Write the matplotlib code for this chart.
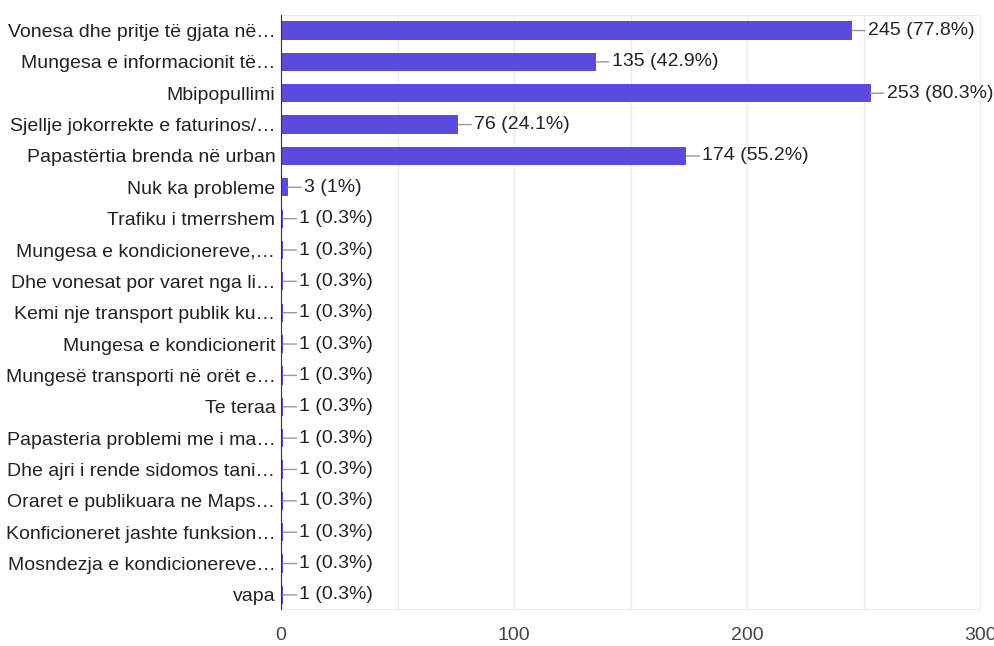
import matplotlib.pyplot as plt

# answers (already truncated the way the form chart shows them)
labels = [
    "Vonesa dhe pritje të gjata në…",
    "Mungesa e informacionit të…",
    "Mbipopullimi",
    "Sjellje jokorrekte e faturinos/…",
    "Papastërtia brenda në urban",
    "Nuk ka probleme",
    "Trafiku i tmerrshem",
    "Mungesa e kondicionereve,…",
    "Dhe vonesat por varet nga li…",
    "Kemi nje transport publik ku…",
    "Mungesa e kondicionerit",
    "Mungesë transporti në orët e…",
    "Te teraa",
    "Papasteria problemi me i ma…",
    "Dhe ajri i rende sidomos tani…",
    "Oraret e publikuara ne Maps…",
    "Konficioneret jashte funksion…",
    "Mosndezja e kondicionereve…",
    "vapa",
]
counts = [245, 135, 253, 76, 174, 3, 1, 1, 1, 1, 1, 1, 1, 1, 1, 1, 1, 1, 1]
percents = ["77.8%", "42.9%", "80.3%", "24.1%", "55.2%", "1%",
            "0.3%", "0.3%", "0.3%", "0.3%", "0.3%", "0.3%", "0.3%",
            "0.3%", "0.3%", "0.3%", "0.3%", "0.3%", "0.3%"]
xticks = [0, 100, 200, 300]

plt.rcParams['font.family'] = ['Liberation Sans', 'DejaVu Sans']

fig = plt.figure(figsize=(9.95, 6.46), dpi=100)
ax = fig.add_axes([0.2824, 0.0573, 0.7026, 0.9197])

ypos = list(range(len(labels)))
ax.barh(ypos, counts, height=0.58, color='#5b4ae0', zorder=3)

for y, c, p in zip(ypos, counts, percents):
    ax.annotate(f"{c} ({p})", xy=(c, y), xytext=(11.5, 0),
                textcoords='offset points', va='center', ha='left',
                fontsize=14, color='#222222',
                arrowprops=dict(arrowstyle='-', color='#999999', lw=1,
                                shrinkA=0, shrinkB=0))

ax.set_xlim(0, 300)
ax.set_ylim(18.45, -0.5)
ax.set_yticks(ypos)
ax.set_yticklabels(labels, fontsize=14, color='#222222')
ax.set_xticks(xticks)
ax.set_xticklabels([str(t) for t in xticks], fontsize=14, color='#444444')
ax.set_xticks(range(50, 300, 100), minor=True)
ax.tick_params(axis='both', which='both', length=0)
ax.tick_params(axis='y', pad=4)
ax.tick_params(axis='x', pad=13)

ax.grid(axis='x', which='both', color='#ebebeb', lw=1, zorder=0)
for side in ['top', 'right', 'bottom']:
    ax.spines[side].set_color('#ebebeb')
ax.spines['left'].set_color('#333333')
ax.spines['left'].set_zorder(4)

fig.savefig('out.png', dpi=100)
